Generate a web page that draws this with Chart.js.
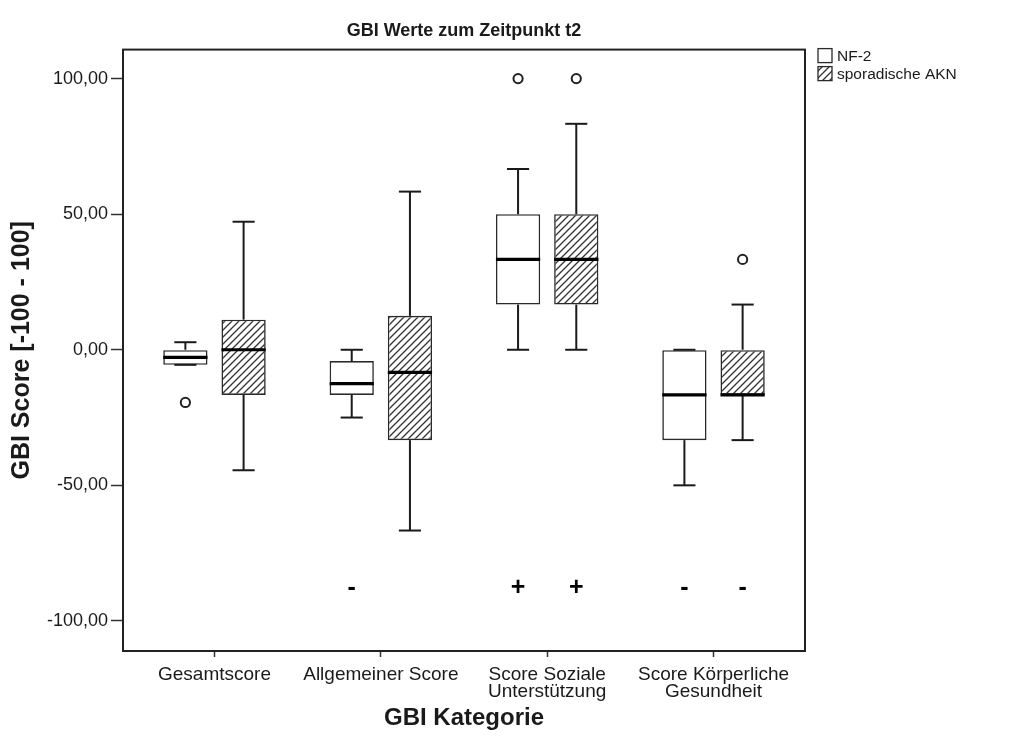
<!DOCTYPE html>
<html>
<head>
<meta charset="utf-8">
<script src="https://cdn.jsdelivr.net/npm/chart.js@4.4.1/dist/chart.umd.min.js"></script>
<style>
  html, body { margin: 0; padding: 0; background: #fff; }
  #wrap { width: 1024px; height: 740px; }
</style>
</head>
<body>
<div id="wrap"><canvas id="c" width="1024" height="740"></canvas></div>
<script>
// Categories (multi-line tick labels) and series names
const categories = [['Gesamtscore'], ['Allgemeiner Score'], ['Score Soziale', 'Unterstützung'], ['Score Körperliche', 'Gesundheit']];
const seriesNames = ['NF-2', 'sporadische AKN'];
const yTickValues = [-100, -50, 0, 50, 100];

// NF-2: whisker ends, quartiles, median, outliers, marker signs
const nf2Min = [-5.56, -25, 0, -50];
const nf2Q1 = [-5.56, -16.67, 16.67, -33.33];
const nf2Median = [-2.78, -12.5, 33.33, -16.67];
const nf2Q3 = [0, -4.17, 50, 0];
const nf2Max = [2.78, 0, 66.67, 0];
const nf2Outliers = [[-19.44], [], [100], []];
const nf2Signs = ['', '-', '+', '-'];

// sporadische AKN
const aknMin = [-44.44, -66.67, 0, -33.33];
const aknQ1 = [-16.67, -33.33, 16.67, -16.67];
const aknMedian = [0, -8.33, 33.33, -16.67];
const aknQ3 = [11.11, 12.5, 50, 0];
const aknMax = [47.22, 58.33, 83.33, 16.67];
const aknOutliers = [[], [], [100], [33.33]];
const aknSigns = ['', '', '+', '-'];

const signRowValue = -88;

const FONT = '"Liberation Sans", Arial, Helvetica, sans-serif';
const INK = '#1a1a1a';

// diagonal hatch fill
function makeHatch() {
  const s = 7;
  const p = document.createElement('canvas');
  p.width = s; p.height = s;
  const c = p.getContext('2d');
  c.fillStyle = '#fff';
  c.fillRect(0, 0, s, s);
  c.strokeStyle = '#333';
  c.lineWidth = 1.3;
  c.beginPath();
  c.moveTo(0, s); c.lineTo(s, 0);
  c.moveTo(-1, 1); c.lineTo(1, -1);
  c.moveTo(s - 1, s + 1); c.lineTo(s + 1, s - 1);
  c.stroke();
  return c.createPattern(p, 'repeat');
}
const hatch = makeHatch();

function boxData(q1, q3) {
  return q1.map((v, i) => ({ x: i, y: [v, q3[i]] }));
}

const datasets = [
  {
    label: seriesNames[0],
    data: boxData(nf2Q1, nf2Q3),
    backgroundColor: '#ffffff',
    stats: { min: nf2Min, med: nf2Median, max: nf2Max, q1: nf2Q1, q3: nf2Q3, out: nf2Outliers, signs: nf2Signs }
  },
  {
    label: seriesNames[1],
    data: boxData(aknQ1, aknQ3),
    backgroundColor: hatch,
    stats: { min: aknMin, med: aknMedian, max: aknMax, q1: aknQ1, q3: aknQ3, out: aknOutliers, signs: aknSigns }
  }
].map(d => Object.assign(d, {
  borderColor: '#2a2a2a',
  borderWidth: 1.6,
  borderSkipped: false,
  categoryPercentage: 0.7,
  barPercentage: 0.76
}));

function line(ctx, x1, y1, x2, y2) {
  ctx.beginPath();
  ctx.moveTo(x1, y1);
  ctx.lineTo(x2, y2);
  ctx.stroke();
}

// frame, whiskers, medians, outliers, marker signs and legend
const boxDecor = {
  id: 'boxDecor',
  beforeDatasetsDraw(chart) {
    const { ctx, chartArea: a } = chart;
    ctx.save();
    ctx.strokeStyle = '#222';
    ctx.lineWidth = 2;
    ctx.strokeRect(a.left, a.top, a.right - a.left, a.bottom - a.top);
    ctx.restore();
  },
  afterDatasetsDraw(chart) {
    const { ctx } = chart;
    const ys = chart.scales.y;
    ctx.save();
    ctx.lineCap = 'butt';
    chart.data.datasets.forEach((ds, di) => {
      const meta = chart.getDatasetMeta(di);
      const st = ds.stats;
      meta.data.forEach((bar, i) => {
        const x = bar.x;
        const half = bar.width / 2;
        const cap = bar.width / 4;
        const pMin = ys.getPixelForValue(st.min[i]);
        const pMax = ys.getPixelForValue(st.max[i]);
        const pQ1 = ys.getPixelForValue(st.q1[i]);
        const pQ3 = ys.getPixelForValue(st.q3[i]);
        const pMed = ys.getPixelForValue(st.med[i]);
        ctx.strokeStyle = INK;
        ctx.lineWidth = 2;
        if (pMax < pQ3) line(ctx, x, pQ3, x, pMax);
        line(ctx, x - cap, pMax, x + cap, pMax);
        if (pMin > pQ1) line(ctx, x, pQ1, x, pMin);
        line(ctx, x - cap, pMin, x + cap, pMin);
        ctx.lineWidth = 3.2;
        ctx.strokeStyle = '#000';
        line(ctx, x - half, pMed, x + half, pMed);
        st.out[i].forEach(v => {
          const py = ys.getPixelForValue(v);
          ctx.beginPath();
          ctx.arc(x, py, 4.6, 0, Math.PI * 2);
          ctx.fillStyle = '#fff';
          ctx.fill();
          ctx.lineWidth = 2;
          ctx.strokeStyle = '#222';
          ctx.stroke();
        });
        if (st.signs[i]) {
          ctx.fillStyle = '#000';
          ctx.font = 'bold 25px ' + FONT;
          ctx.textAlign = 'center';
          ctx.textBaseline = 'middle';
          ctx.fillText(st.signs[i], x, ys.getPixelForValue(signRowValue));
        }
      });
    });
    ctx.restore();
  },
  afterDraw(chart) {
    const { ctx, chartArea: a } = chart;
    ctx.save();
    const lx = a.right + 13;
    chart.data.datasets.forEach((ds, i) => {
      const top = a.top - 1 + i * 18;
      ctx.fillStyle = ds.backgroundColor;
      ctx.fillRect(lx, top, 14, 14);
      ctx.strokeStyle = '#2a2a2a';
      ctx.lineWidth = 1.3;
      ctx.strokeRect(lx, top, 14, 14);
      ctx.fillStyle = INK;
      ctx.font = '15.5px ' + FONT;
      ctx.textAlign = 'left';
      ctx.textBaseline = 'middle';
      ctx.fillText(ds.label, lx + 19, top + 8);
    });
    ctx.restore();
  }
};

new Chart(document.getElementById('c'), {
  type: 'bar',
  data: { datasets },
  plugins: [boxDecor],
  options: {
    responsive: false,
    animation: false,
    events: [],
    layout: { padding: { top: 0, right: 219, bottom: 0, left: 0 } },
    plugins: {
      legend: { display: false },
      tooltip: { enabled: false },
      title: {
        display: true,
        fullSize: false,
        text: 'GBI Werte zum Zeitpunkt t2',
        color: INK,
        font: { family: FONT, size: 18, weight: 'bold' },
        padding: { top: 20, bottom: 8 }
      }
    },
    scales: {
      x: {
        type: 'linear',
        offset: false,
        min: -0.55,
        max: 3.55,
        afterFit(scale) { scale.height = 89; },
        afterBuildTicks(scale) { scale.ticks = categories.map((_, i) => ({ value: i })); },
        grid: { offset: false, drawOnChartArea: false, drawTicks: true, tickLength: 6, tickColor: '#333', tickWidth: 1.5 },
        border: { display: false },
        ticks: {
          autoSkip: false,
          maxRotation: 0,
          padding: 9,
          color: INK,
          font: { family: FONT, size: 19, lineHeight: 0.9 },
          callback: (v) => categories[v] || ''
        },
        title: {
          display: true,
          text: 'GBI Kategorie',
          color: INK,
          font: { family: FONT, size: 24, weight: 'bold' },
          padding: { top: 0, bottom: 7 }
        }
      },
      y: {
        min: -111.1,
        max: 110.7,
        afterFit(scale) { scale.width = 123; },
        afterBuildTicks(scale) { scale.ticks = yTickValues.map(v => ({ value: v })); },
        grid: { drawOnChartArea: false, drawTicks: true, tickLength: 12, tickColor: '#333', tickWidth: 1.5 },
        border: { display: false },
        ticks: {
          padding: 3,
          color: INK,
          font: { family: FONT, size: 18 },
          callback: (v) => v.toFixed(2).replace('.', ',')
        },
        title: {
          display: true,
          text: 'GBI Score [-100 - 100]',
          color: INK,
          font: { family: FONT, size: 25, weight: 'bold' },
          padding: { top: 7, bottom: 0 }
        }
      }
    }
  }
});
</script>
</body>
</html>
